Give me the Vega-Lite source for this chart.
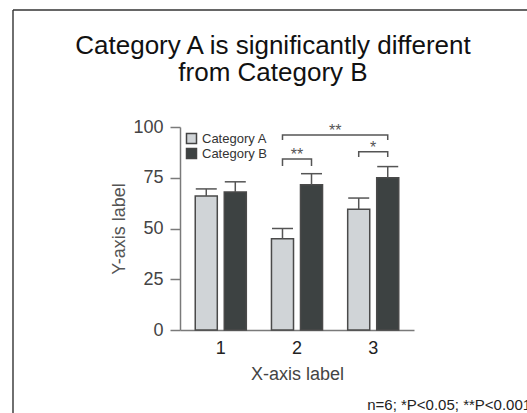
{
  "$schema": "https://vega.github.io/schema/vega-lite/v6.json",
  "autosize": {"type": "none"},
  "width": 234,
  "height": 203,
  "padding": {"left": 180, "top": 127, "right": 113, "bottom": 83},
  "background": "white",
  "config": {
    "view": {"stroke": null},
    "font": "Liberation Sans"
  },
  "title": {
    "text": ["Category A is significantly different", "from Category B"],
    "fontSize": 26,
    "fontWeight": "normal",
    "color": "#111111",
    "anchor": "middle",
    "frame": "group",
    "dx": -24,
    "offset": 0,
    "dy": 77,
    "lineHeight": 27.5
  },
  "datasets": {
    "means": [
      {"group": "1", "category": "Category A", "value": 66, "upper": 69.5},
      {"group": "1", "category": "Category B", "value": 68, "upper": 73},
      {"group": "2", "category": "Category A", "value": 45, "upper": 50},
      {"group": "2", "category": "Category B", "value": 71.5, "upper": 77},
      {"group": "3", "category": "Category A", "value": 59.5, "upper": 65},
      {"group": "3", "category": "Category B", "value": 75, "upper": 80.5}
    ],
    "brackets": [
      {"id": "2A-3B", "group": "2", "category": "Category A", "y": 93.6, "ord": 1},
      {"id": "2A-3B", "group": "2", "category": "Category A", "y": 96, "ord": 2},
      {"id": "2A-3B", "group": "3", "category": "Category B", "y": 96, "ord": 3},
      {"id": "2A-3B", "group": "3", "category": "Category B", "y": 93.6, "ord": 4},
      {"id": "2A-2B", "group": "2", "category": "Category A", "y": 80.8, "ord": 1},
      {"id": "2A-2B", "group": "2", "category": "Category A", "y": 84.2, "ord": 2},
      {"id": "2A-2B", "group": "2", "category": "Category B", "y": 84.2, "ord": 3},
      {"id": "2A-2B", "group": "2", "category": "Category B", "y": 80.8, "ord": 4},
      {"id": "3A-3B", "group": "3", "category": "Category A", "y": 85.2, "ord": 1},
      {"id": "3A-3B", "group": "3", "category": "Category A", "y": 87.8, "ord": 2},
      {"id": "3A-3B", "group": "3", "category": "Category B", "y": 87.8, "ord": 3},
      {"id": "3A-3B", "group": "3", "category": "Category B", "y": 85.2, "ord": 4}
    ],
    "stars": [
      {"group": "2", "y": 84.2, "label": "**"},
      {"group": "3", "y": 87.8, "label": "*"}
    ],
    "starsAcross": [
      {"group": "3", "y": 96, "label": "**"}
    ],
    "note": [
      {"group": "3", "y": -39.5, "label": "n=6; *P<0.05; **P<0.001"}
    ]
  },
  "layer": [
    {
      "data": {"name": "means"},
      "mark": {"type": "bar", "stroke": "#4a4a4a", "strokeWidth": 1.5},
      "encoding": {
        "x": {
          "field": "group",
          "type": "nominal",
          "title": "X-axis label",
          "scale": {"paddingInner": 0.33, "paddingOuter": 0.2},
          "axis": {
            "labelAngle": 0,
            "ticks": false,
            "domainColor": "#7a7a7a",
            "domainWidth": 1.5,
            "labelFontSize": 18,
            "labelColor": "#222222",
            "labelPadding": 9,
            "titleFontSize": 18,
            "titleFontWeight": "normal",
            "titleColor": "#444444",
            "titlePadding": 8
          }
        },
        "xOffset": {
          "field": "category",
          "type": "nominal",
          "scale": {"paddingInner": 0.24, "paddingOuter": 0}
        },
        "y": {
          "field": "value",
          "type": "quantitative",
          "title": "Y-axis label",
          "scale": {"domain": [0, 100], "nice": false},
          "axis": {
            "values": [0, 25, 50, 75, 100],
            "grid": false,
            "tickSize": 10,
            "tickColor": "#7a7a7a",
            "tickWidth": 1.5,
            "domainColor": "#7a7a7a",
            "domainWidth": 1.5,
            "labelFontSize": 18,
            "labelColor": "#444444",
            "labelPadding": 7,
            "titleFontSize": 18,
            "titleFontWeight": "normal",
            "titleColor": "#555555",
            "titlePadding": 4
          }
        },
        "color": {
          "field": "category",
          "type": "nominal",
          "scale": {"domain": ["Category A", "Category B"], "range": ["#d0d4d7", "#3d4242"]},
          "legend": {
            "title": null,
            "orient": "top-left",
            "offset": 5,
            "padding": 0,
            "symbolType": "square",
            "symbolSize": 100,
            "symbolStrokeColor": "#444444",
            "symbolStrokeWidth": 1.5,
            "symbolOpacity": 1,
            "labelFontSize": 13,
            "labelColor": "#333333",
            "labelOffset": 4,
            "rowPadding": -2
          }
        }
      }
    },
    {
      "data": {"name": "means"},
      "mark": {"type": "rule", "stroke": "#555555", "strokeWidth": 1.5},
      "encoding": {
        "x": {"field": "group", "type": "nominal"},
        "xOffset": {"field": "category", "type": "nominal"},
        "y": {"field": "value", "type": "quantitative"},
        "y2": {"field": "upper"}
      }
    },
    {
      "data": {"name": "means"},
      "mark": {"type": "tick", "color": "#555555", "size": 21, "thickness": 1.5, "opacity": 1},
      "encoding": {
        "x": {"field": "group", "type": "nominal"},
        "xOffset": {"field": "category", "type": "nominal"},
        "y": {"field": "upper", "type": "quantitative"}
      }
    },
    {
      "data": {"name": "brackets"},
      "mark": {"type": "line", "stroke": "#555555", "strokeWidth": 1.5, "interpolate": "linear"},
      "encoding": {
        "x": {"field": "group", "type": "nominal"},
        "xOffset": {"field": "category", "type": "nominal"},
        "y": {"field": "y", "type": "quantitative"},
        "detail": {"field": "id"},
        "order": {"field": "ord", "type": "quantitative"}
      }
    },
    {
      "data": {"name": "stars"},
      "mark": {"type": "text", "fontSize": 16, "color": "#555555", "baseline": "alphabetic", "align": "center", "dy": 1},
      "encoding": {
        "x": {"field": "group", "type": "nominal"},
        "y": {"field": "y", "type": "quantitative"},
        "text": {"field": "label"}
      }
    },
    {
      "data": {"name": "starsAcross"},
      "mark": {"type": "text", "fontSize": 16, "color": "#555555", "baseline": "alphabetic", "align": "center", "dy": 1, "dx": -38},
      "encoding": {
        "x": {"field": "group", "type": "nominal"},
        "y": {"field": "y", "type": "quantitative"},
        "text": {"field": "label"}
      }
    },
    {
      "data": {"name": "note"},
      "mark": {"type": "text", "fontSize": 15, "color": "#222222", "baseline": "alphabetic", "align": "left", "dx": -6},
      "encoding": {
        "x": {"field": "group", "type": "nominal"},
        "y": {"field": "y", "type": "quantitative"},
        "text": {"field": "label"}
      }
    },
    {
      "data": {"values": [{}]},
      "mark": {"type": "rule", "stroke": "#333333", "strokeWidth": 1.4},
      "encoding": {
        "x": {"value": -167},
        "y": {"value": -117},
        "y2": {"value": 300}
      }
    },
    {
      "data": {"values": [{}]},
      "mark": {"type": "rule", "stroke": "#333333", "strokeWidth": 1.4},
      "encoding": {
        "x": {"value": -167},
        "x2": {"value": 400},
        "y": {"value": -117}
      }
    }
  ]
}
